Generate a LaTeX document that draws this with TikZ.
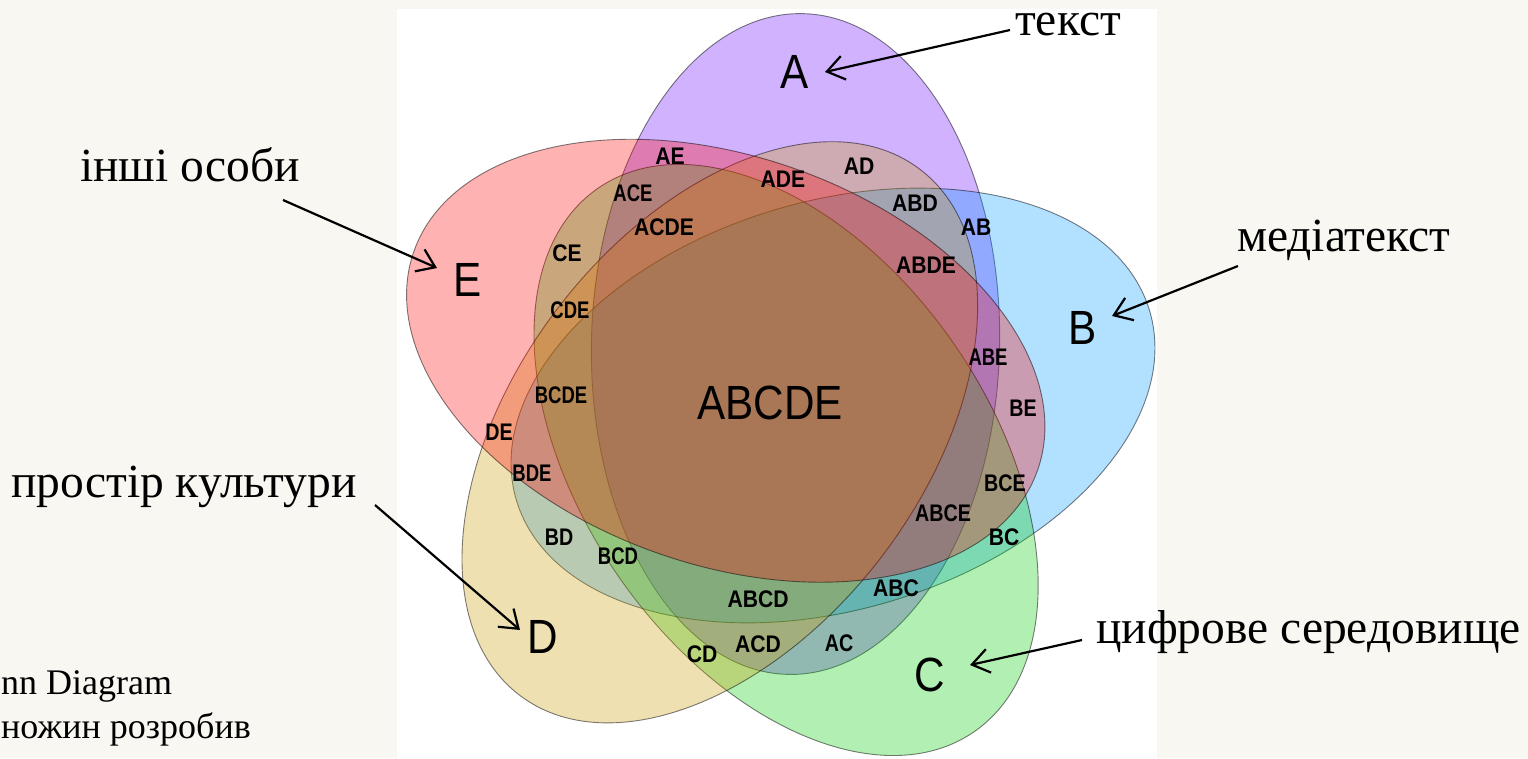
\documentclass[tikz,border=0pt]{standalone}
\usepackage{fontspec}
\setmainfont{Liberation Serif}
\newfontfamily\vennN[FakeStretch=0.88]{Liberation Sans}
\newfontfamily\vennM[FakeStretch=0.82]{Liberation Sans}
\newfontfamily\vennC[FakeStretch=0.77]{Liberation Sans}
\usetikzlibrary{arrows.meta}
\definecolor{bgcream}{RGB}{248,247,241}
\definecolor{setA}{RGB}{102,0,255}
\definecolor{setB}{RGB}{0,153,255}
\definecolor{setC}{RGB}{0,204,0}
\definecolor{setD}{RGB}{204,153,0}
\definecolor{setE}{RGB}{255,0,0}
\begin{document}
\begin{tikzpicture}[x=1pt,y=-1pt,
  setshape/.style={fill=#1, fill opacity=0.3, draw=black, draw opacity=0.5, line width=0.9pt},
  reg/.style={font=\fontsize{24}{24}\selectfont\vennN\bfseries, inner sep=0pt},
  regm/.style={font=\fontsize{24}{24}\selectfont\vennM\bfseries, inner sep=0pt},
  regc/.style={font=\fontsize{24}{24}\selectfont\vennC\bfseries, inner sep=0pt},
  big/.style={font=\fontsize{48}{48}\selectfont\vennN, inner sep=0pt},
  cyr/.style={font=\fontsize{47.5}{47.5}\selectfont, inner sep=0pt, anchor=base west},
  note/.style={font=\fontsize{36}{36}\selectfont, inner sep=0pt, anchor=base west},
  arr/.style={line width=2.2pt, -{Straight Barb[length=17pt,width=24pt,line width=2.2pt]}}
]
\useasboundingbox (0,0) rectangle (1528,758);
\clip (0,0) rectangle (1528,758);
\fill[bgcream] (0,0) rectangle (1528,758);
\fill[white] (397,9) rectangle (1157,758);

% ellipse centres
\coordinate (cA) at (795.5,344);
\coordinate (cB) at (833,405.5);
\coordinate (cC) at (786.1,460.0);
\coordinate (cD) at (719.8,432.3);
\coordinate (cE) at (725.7,360.7);

\draw[setshape=setA, rotate around={88.7:(cA)}] (cA) ellipse [x radius=330.5pt, y radius=204.1pt];
\draw[setshape=setB, rotate around={16.7:(cB)}] (cB) ellipse [x radius=330.5pt, y radius=204.1pt];
\draw[setshape=setC, rotate around={-55.3:(cC)}] (cC) ellipse [x radius=330.5pt, y radius=204.1pt];
\draw[setshape=setD, rotate around={-127.3:(cD)}] (cD) ellipse [x radius=330.5pt, y radius=204.1pt];
\draw[setshape=setE, rotate around={-199.3:(cE)}] (cE) ellipse [x radius=330.5pt, y radius=204.1pt];

% set labels
\node[big] (lA) at (795,72) {A};
\node[big] (lB) at (1083,328) {B};
\node[big] (lC) at (930,675) {C};
\node[big] (lD) at (543,637) {D};
\node[big] (lE) at (468,280) {E};
\node[big] (lABCDE) at (770,403) {ABCDE};

% region labels
\node[reg] (rAE) at (670,156) {AE};
\node[reg] (rAD) at (859,166) {AD};
\node[reg] (rADE) at (783,179) {ADE};
\node[regc] (rACE) at (633,193) {ACE};
\node[reg] (rABD) at (915,203) {ABD};
\node[reg] (rAB) at (976,227) {AB};
\node[reg] (rACDE) at (664,227) {ACDE};
\node[reg] (rABDE) at (926,265) {ABDE};
\node[reg] (rCE) at (567,253) {CE};
\node[regc] (rCDE) at (570,310) {CDE};
\node[regc] (rABE) at (988,357) {ABE};
\node[regc] (rBCDE) at (561,395) {BCDE};
\node[regm] (rBE) at (1023,408) {BE};
\node[regm] (rDE) at (499,432) {DE};
\node[regc] (rBDE) at (532,473) {BDE};
\node[regm] (rBCE) at (1005,483) {BCE};
\node[regm] (rABCE) at (943,513) {ABCE};
\node[regm] (rBD) at (559,537) {BD};
\node[reg] (rBC) at (1004,537) {BC};
\node[regc] (rBCD) at (618,556) {BCD};
\node[reg] (rABC) at (896,588) {ABC};
\node[reg] (rABCD) at (758,599) {ABCD};
\node[reg] (rACD) at (758,644) {ACD};
\node[reg] (rCD) at (702,654) {CD};
\node[regm] (rAC) at (839,643) {AC};

% annotation texts
\node[cyr] (tA) at (1015,35) {текст};
\node[cyr] (tE) at (80,181) {інші особи};
\node[cyr] (tB) at (1237,251) {медіатекст};
\node[cyr] (tD) at (11,497) {простір культури};
\node[cyr] (tC) at (1096,643) {цифрове середовище};
\node[note] (n1) at (1,694) {nn Diagram};
\node[note] (n2) at (1,738) {ножин розробив};

% arrows
\coordinate (sA) at (1010,30);  \coordinate (pA) at (825,72);
\coordinate (sE) at (283,200);  \coordinate (pE) at (437,268);
\coordinate (sB) at (1238,266); \coordinate (pB) at (1112,316);
\coordinate (sD) at (375,505);  \coordinate (pD) at (520,630);
\coordinate (sC) at (1082,640); \coordinate (pC) at (970,665);
\draw[arr] (sA) -- (pA);
\draw[arr] (sE) -- (pE);
\draw[arr] (sB) -- (pB);
\draw[arr] (sD) -- (pD);
\draw[arr] (sC) -- (pC);
\end{tikzpicture}
\end{document}
